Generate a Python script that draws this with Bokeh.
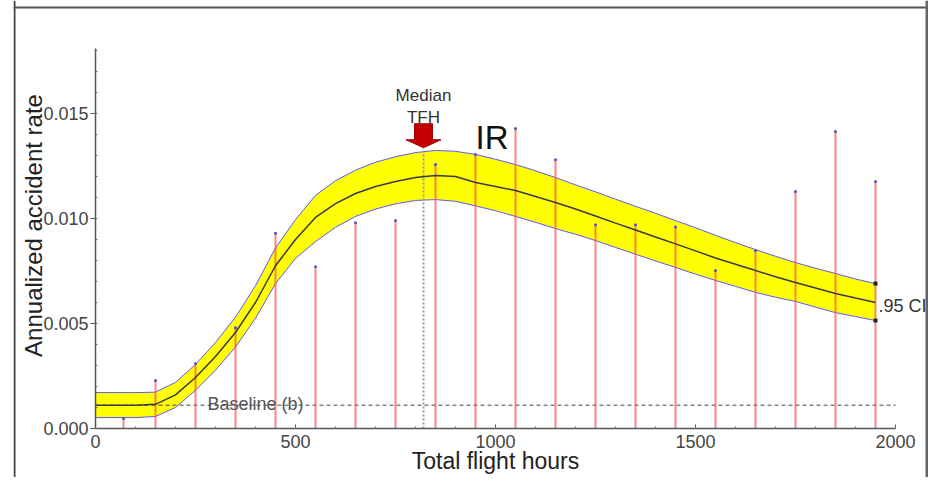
import numpy as np
from bokeh.plotting import figure
from bokeh.models import Range1d, FixedTicker, Label, Span
from bokeh.embed import file_html
from bokeh.resources import INLINE

# ---------------- data ----------------
fit_hours = [0, 100, 150, 200, 250, 300, 350, 400, 450, 500, 550, 600, 650, 700,
             750, 800, 850, 900, 950, 1000, 1050, 1100, 1150, 1200, 1250, 1300,
             1350, 1400, 1450, 1500, 1550, 1600, 1650, 1700, 1750, 1800, 1850,
             1900, 1950]
fit_mean = [0.00111, 0.00111, 0.00115, 0.00160, 0.00243, 0.00343, 0.00457, 0.00600,
            0.00775, 0.00900, 0.01005, 0.01071, 0.01119, 0.01152, 0.01176, 0.01195,
            0.01205, 0.01200, 0.01171, 0.01152, 0.01133, 0.01105, 0.01076, 0.01045,
            0.01012, 0.00978, 0.00945, 0.00912, 0.00879, 0.00846, 0.00812, 0.00782,
            0.00752, 0.00723, 0.00695, 0.00669, 0.00643, 0.00621, 0.00600]
fit_upper = [0.00171, 0.00171, 0.00173, 0.00220, 0.00305, 0.00410, 0.00530, 0.00680,
             0.00860, 0.00995, 0.01110, 0.01180, 0.01230, 0.01268, 0.01294, 0.01314,
             0.01324, 0.01320, 0.01305, 0.01282, 0.01257, 0.01227, 0.01195, 0.01160,
             0.01127, 0.01092, 0.01058, 0.01025, 0.00990, 0.00956, 0.00920, 0.00885,
             0.00852, 0.00820, 0.00790, 0.00763, 0.00738, 0.00712, 0.00690]
fit_lower = [0.00052, 0.00052, 0.00057, 0.00100, 0.00182, 0.00278, 0.00388, 0.00525,
             0.00690, 0.00810, 0.00890, 0.00958, 0.01010, 0.01045, 0.01070, 0.01086,
             0.01090, 0.01082, 0.01060, 0.01037, 0.01010, 0.00982, 0.00952, 0.00925,
             0.00895, 0.00862, 0.00830, 0.00798, 0.00767, 0.00735, 0.00705, 0.00677,
             0.00648, 0.00625, 0.00605, 0.00578, 0.00552, 0.00533, 0.00514]

bin_hours = [70, 150, 250, 350, 450, 550, 650, 750, 850, 950, 1050, 1150, 1250,
             1350, 1450, 1550, 1650, 1750, 1850, 1950]
bin_rate = [0.00048, 0.00229, 0.0031, 0.0048, 0.0093, 0.0077, 0.0098, 0.0099,
            0.01257, 0.01305, 0.01429, 0.0128, 0.0097, 0.0097, 0.0096, 0.00752,
            0.00848, 0.01129, 0.01414, 0.01176]

BASELINE_RATE = 0.00111
MEDIAN_TFH = 820

x_ticks = [0, 500, 1000, 1500, 2000]
x_tick_labels = ["0", "500", "1000", "1500", "2000"]
y_ticks = [0.0, 0.005, 0.010, 0.015]
y_tick_labels = ["0.000", "0.005", "0.010", "0.015"]
X_AXIS_END = 2000
Y_AXIS_END = 0.0181

# ---------------- layout ----------------
# canvas pixel <-> data mapping (data origin at canvas pixel (95, 428))
XPX = 2.5              # hours per pixel
YPX = 0.005 / 105      # rate per pixel


def dx(px):
    return (px - 95) * XPX


def dy(py):
    return (428 - py) * YPX


W, H = 928, 477
ML = 13
FONT = "Liberation Sans"

p = figure(width=W, height=H,
           x_range=Range1d(dx(ML), dx(W)),
           y_range=Range1d(dy(H), dy(0)),
           output_backend="svg", toolbar_location=None,
           min_border_left=ML, min_border_right=0, min_border_top=0,
           min_border_bottom=0)
p.title.visible = False
p.outline_line_color = None
p.xgrid.visible = False
p.ygrid.visible = False
p.background_fill_color = "white"
p.border_fill_color = "white"

# axes drawn inside the frame at the data origin
p.xaxis.fixed_location = 0
p.yaxis.fixed_location = 0
p.xaxis.bounds = (0, X_AXIS_END)
p.yaxis.bounds = (0, Y_AXIS_END)
p.xaxis.ticker = FixedTicker(ticks=x_ticks, minor_ticks=list(range(0, X_AXIS_END + 1, 100)))
p.xaxis.major_label_overrides = dict(zip(x_ticks, x_tick_labels))
p.yaxis.ticker = FixedTicker(ticks=y_ticks,
                             minor_ticks=[round(v, 4) for v in np.arange(0, 0.0185, 0.001)])
p.yaxis.major_label_overrides = dict(zip(y_ticks, y_tick_labels))
for ax in (p.xaxis, p.yaxis):
    ax.axis_line_color = "#555"
    ax.axis_line_width = 1.5
    ax.major_tick_line_color = "#555"
    ax.minor_tick_line_color = "#777"
    ax.major_label_text_font = FONT
    ax.major_label_text_font_size = "18px"
    ax.major_label_text_color = "#444"
p.xaxis.major_tick_in = 4
p.xaxis.major_tick_out = 0
p.xaxis.minor_tick_in = 2
p.xaxis.minor_tick_out = 0
p.xaxis.major_label_standoff = 6
p.xaxis.axis_label = "Total flight hours"
p.xaxis.axis_label_text_font = FONT
p.xaxis.axis_label_text_font_size = "23px"
p.xaxis.axis_label_text_font_style = "normal"
p.xaxis.axis_label_text_color = "#222"
p.xaxis.axis_label_standoff = -3
p.yaxis.major_tick_in = 0
p.yaxis.major_tick_out = 5
p.yaxis.minor_tick_in = 2
p.yaxis.minor_tick_out = 0
p.yaxis.major_label_standoff = 2

# confidence band
p.varea(x=fit_hours, y1=fit_lower, y2=fit_upper, fill_color="#ffff00")
p.line(fit_hours, fit_upper, line_color="#5a5aff", line_width=1)
p.line(fit_hours, fit_lower, line_color="#5a5aff", line_width=1)

# median dotted line
median_top = float(np.interp(MEDIAN_TFH, fit_hours, fit_upper))
p.segment(x0=[MEDIAN_TFH], y0=[0], x1=[MEDIAN_TFH], y1=[median_top],
          line_color="#9a9a9a", line_width=2, line_dash="2 2")

# baseline
p.segment(x0=[x_ticks[0]], y0=[BASELINE_RATE], x1=[x_ticks[-1]], y1=[BASELINE_RATE],
          line_color="#444", line_width=1, line_dash="4 3")

# observed rate bars
p.segment(x0=bin_hours, y0=[0] * len(bin_hours), x1=bin_hours, y1=bin_rate,
          line_color="#ff4d4d", line_alpha=0.7, line_width=2)
p.scatter(bin_hours, bin_rate, size=3, marker="circle", fill_color="#5050cc",
          line_color=None)

# mean fit
p.line(fit_hours, fit_mean, line_color="#3a3a4a", line_width=1.5)

# CI end markers
p.scatter([fit_hours[-1], fit_hours[-1]], [fit_upper[-1], fit_lower[-1]],
          marker="square", size=4, fill_color="#222", line_color=None)

# median arrow (block arrow)
tip = median_top + 4 * YPX
ax_off = np.array([-9, 9, 9, 17.5, 0, -17.5, -9, -9]) * XPX
ay_off = np.array([24, 24, 8, 8, 0, 8, 8, 24]) * YPX
p.patch(MEDIAN_TFH + ax_off, tip + ay_off, fill_color="#c40000", line_color="#a00000",
        line_width=1)

# outer box (left, top, right edges)
p.add_layout(Span(location=dx(14), dimension="height", line_color="#444", line_width=2))
p.add_layout(Span(location=dy(7), dimension="width", line_color="#555", line_width=2))
p.add_layout(Span(location=dx(926.5), dimension="height", line_color="#666", line_width=3))

labels = [
    Label(x=MEDIAN_TFH, y=dy(95), text="Median", text_align="center",
          text_baseline="alphabetic", text_font=FONT, text_font_size="17px",
          text_color="#333"),
    Label(x=MEDIAN_TFH, y=dy(117), text="TFH", text_align="center",
          text_baseline="alphabetic", text_font=FONT, text_font_size="17px",
          text_color="#333"),
    Label(x=dx(475), y=dy(137), text="IR", text_align="left",
          text_baseline="alphabetic", text_font=FONT, text_font_size="33px",
          text_color="#111"),
    Label(x=dx(207), y=dy(403), text="Baseline (b)", text_align="left",
          text_baseline="alphabetic", text_font=FONT, text_font_size="18px",
          text_color="#555"),
    Label(x=dx(878), y=dy(305), text=".95 CI", text_align="left",
          text_baseline="middle", text_font=FONT, text_font_size="18px",
          text_color="#333"),
    Label(x=dx(33), y=dy(225), text="Annualized accident rate", angle=np.pi / 2,
          text_align="center", text_baseline="alphabetic", text_font=FONT,
          text_font_size="24px", text_color="#222"),
]
for lb in labels:
    p.add_layout(lb)

open("out.html", "w").write(file_html(p, INLINE))
